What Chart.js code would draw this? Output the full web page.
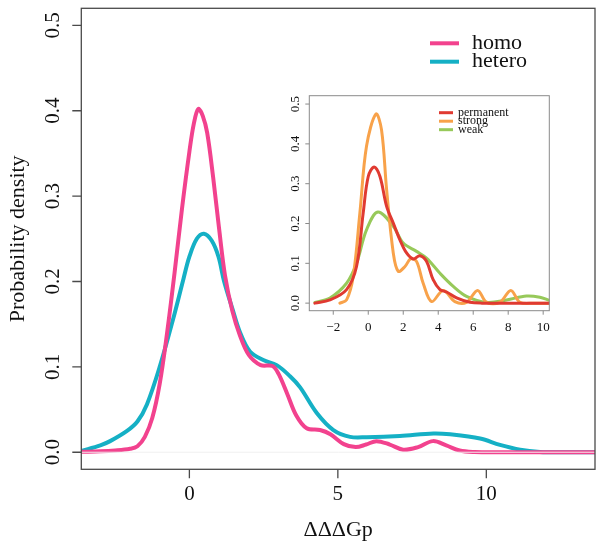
<!DOCTYPE html>
<html>
<head>
<meta charset="utf-8">
<script src="https://cdn.jsdelivr.net/npm/chart.js@4.4.0/dist/chart.umd.min.js"></script>
<style>
  body { margin: 0; background: #fff; }
  #wrap { position: relative; width: 600px; height: 548px; }
  canvas { position: absolute; left: 0; top: 0; }
</style>
</head>
<body>
<div id="wrap">
  <canvas id="main" width="600" height="548"></canvas>
  <canvas id="inset" width="600" height="548"></canvas>
</div>
<script>
// main plot: density of ΔΔΔGp for homo / hetero complexes
const homoX = [-3.64, -3, -2.5, -2, -1.75, -1.5, -1.25, -1, -0.75, -0.5, -0.25, 0, 0.15, 0.3, 0.45, 0.6, 0.8, 1.0, 1.2, 1.45, 1.7, 2.0, 2.4, 2.8, 3.0, 3.3, 3.6, 3.95, 4.4, 4.75, 5.2, 5.6, 5.95, 6.3, 6.75, 7.2, 7.7, 8.2, 8.65, 9.1, 9.6, 10.5, 12, 13.66];
const homoY = [0.0005, 0.001, 0.002, 0.004, 0.007, 0.018, 0.04, 0.08, 0.14, 0.21, 0.285, 0.352, 0.385, 0.402, 0.394, 0.374, 0.322, 0.262, 0.207, 0.165, 0.137, 0.114, 0.102, 0.101, 0.092, 0.068, 0.043, 0.028, 0.026, 0.021, 0.0095, 0.006, 0.009, 0.013, 0.009, 0.003, 0.006, 0.013, 0.008, 0.002, 0.0003, 0, 0, 0];

const heteroX = [-3.64, -3, -2.67, -2.1, -1.75, -1.43, -1.0, -0.54, -0.2, 0.0, 0.25, 0.49, 0.75, 0.98, 1.17, 1.45, 1.71, 2.04, 2.49, 2.94, 3.39, 3.73, 4.29, 4.85, 5.41, 5.97, 7.09, 8.22, 8.78, 9.79, 10.46, 11.14, 11.81, 12.5, 13.66];
const heteroY = [0.0015, 0.008, 0.013, 0.025, 0.036, 0.056, 0.100, 0.157, 0.203, 0.229, 0.25, 0.256, 0.248, 0.229, 0.2, 0.168, 0.14, 0.118, 0.108, 0.102, 0.089, 0.076, 0.046, 0.026, 0.018, 0.0176, 0.019, 0.022, 0.021, 0.016, 0.0086, 0.003, 0.0004, 0, 0];

const mainXTicks = [0, 5, 10];
const mainXLabels = ['0', '5', '10'];
const mainYTicks = [0, 0.1, 0.2, 0.3, 0.4, 0.5];
const mainYLabels = ['0.0', '0.1', '0.2', '0.3', '0.4', '0.5'];

// inset: permanent / strong / weak
const permX = [-3.05, -2.19, -1.24, -0.67, -0.29, 0, 0.34, 0.67, 1.05, 1.43, 1.81, 2.19, 2.57, 2.95, 3.33, 3.71, 4.10, 4.48, 5.05, 5.81, 6.5, 10.35];
const permY = [0, 0.008, 0.034, 0.092, 0.226, 0.318, 0.342, 0.318, 0.243, 0.201, 0.159, 0.126, 0.111, 0.119, 0.105, 0.059, 0.034, 0.028, 0.013, 0.002, 0, 0];

const strongX = [-1.62, -1.24, -0.86, -0.48, -0.10, 0.44, 0.76, 1.05, 1.43, 1.71, 2.10, 2.42, 2.76, 3.14, 3.62, 4.29, 4.95, 5.62, 6.25, 6.76, 7.52, 8.15, 8.67, 9.5, 10.35];
const strongY = [0, 0.008, 0.067, 0.226, 0.394, 0.475, 0.435, 0.285, 0.126, 0.080, 0.092, 0.111, 0.105, 0.050, 0.004, 0.032, 0.004, 0.002, 0.032, 0.002, 0.002, 0.032, 0.002, 0, 0];

const weakX = [-3.05, -2.19, -1.24, -0.67, -0.10, 0.55, 1.43, 2.0, 2.76, 3.33, 4.10, 4.86, 5.62, 6.76, 7.90, 9.05, 9.81, 10.35];
const weakY = [0.002, 0.013, 0.05, 0.10, 0.184, 0.229, 0.193, 0.151, 0.130, 0.113, 0.075, 0.042, 0.017, 0.002, 0.008, 0.018, 0.015, 0.007];

const insetXTicks = [-2, 0, 2, 4, 6, 8, 10];
const insetXLabels = ['\u22122', '0', '2', '4', '6', '8', '10'];
const insetYTicks = [0, 0.1, 0.2, 0.3, 0.4, 0.5];
const insetYLabels = ['0.0', '0.1', '0.2', '0.3', '0.4', '0.5'];

const pts = (xs, ys) => xs.map((x, i) => ({ x, y: ys[i] }));

function series(label, xs, ys, color, width) {
  return {
    label, data: pts(xs, ys), borderColor: color, borderWidth: width,
    showLine: true, pointRadius: 0, tension: 0.35,
    borderCapStyle: 'round', borderJoinStyle: 'round', fill: false
  };
}

// R-style box, ticks, labels and legend
function framePlugin(cfg) {
  return {
    id: 'frame',
    afterDraw(chart) {
      const ctx = chart.ctx, a = chart.chartArea;
      const xs = chart.scales.x, ys = chart.scales.y;
      ctx.save();
      if (cfg.zeroLine) {
        ctx.strokeStyle = '#f0f0f0'; ctx.lineWidth = 1;
        const p = ys.getPixelForValue(0);
        ctx.beginPath(); ctx.moveTo(a.left, p); ctx.lineTo(a.right, p); ctx.stroke();
      }
      ctx.strokeStyle = cfg.border; ctx.lineWidth = cfg.lw;
      ctx.strokeRect(a.left, a.top, a.right - a.left, a.bottom - a.top);
      ctx.beginPath();
      cfg.xTicks.forEach(v => {
        const p = xs.getPixelForValue(v);
        ctx.moveTo(p, a.bottom); ctx.lineTo(p, a.bottom + cfg.tick);
      });
      cfg.yTicks.forEach(v => {
        const p = ys.getPixelForValue(v);
        ctx.moveTo(a.left, p); ctx.lineTo(a.left - cfg.tick, p);
      });
      ctx.stroke();

      ctx.fillStyle = '#111';
      ctx.font = cfg.font;
      ctx.textAlign = 'center'; ctx.textBaseline = 'middle';
      cfg.xTicks.forEach((v, i) => ctx.fillText(cfg.xLabels[i], xs.getPixelForValue(v), a.bottom + cfg.xOff));
      cfg.yTicks.forEach((v, i) => {
        ctx.save();
        ctx.translate(a.left - cfg.yOff, ys.getPixelForValue(v));
        ctx.rotate(-Math.PI / 2);
        ctx.fillText(cfg.yLabels[i], 0, 0);
        ctx.restore();
      });

      if (cfg.xTitle) {
        ctx.font = cfg.titleFont;
        ctx.fillText(cfg.xTitle, (a.left + a.right) / 2, cfg.xTitleY);
        ctx.save();
        ctx.translate(cfg.yTitleX, (a.top + a.bottom) / 2);
        ctx.rotate(-Math.PI / 2);
        ctx.fillText(cfg.yTitle, 0, 0);
        ctx.restore();
      }

      const lg = cfg.legend;
      ctx.font = lg.font; ctx.textAlign = 'left';
      chart.data.datasets.forEach((d, i) => {
        const y = lg.y + i * lg.gap;
        ctx.strokeStyle = d.borderColor; ctx.lineWidth = d.borderWidth;
        ctx.beginPath(); ctx.moveTo(lg.x, y); ctx.lineTo(lg.x + lg.len, y); ctx.stroke();
        ctx.fillText(d.label, lg.x + lg.len + lg.pad, y);
      });
      ctx.restore();
    }
  };
}

function baseOptions(xr, yr, yWidth, xHeight, padding) {
  return {
    responsive: false, animation: false, events: [],
    layout: { padding },
    plugins: { legend: { display: false }, tooltip: { enabled: false } },
    scales: {
      x: {
        type: 'linear', min: xr[0], max: xr[1],
        grid: { display: false }, border: { display: false }, ticks: { display: false },
        afterFit: s => { s.height = xHeight; }
      },
      y: {
        type: 'linear', min: yr[0], max: yr[1],
        grid: { display: false }, border: { display: false }, ticks: { display: false },
        afterFit: s => { s.width = yWidth; }
      }
    }
  };
}

new Chart(document.getElementById('main'), {
  type: 'scatter',
  data: {
    datasets: [
      series('homo', homoX, homoY, '#F2428E', 4),
      series('hetero', heteroX, heteroY, '#15B0C5', 4)
    ]
  },
  options: baseOptions([-3.64, 13.66], [-0.02, 0.52], 81.3, 78.7, { left: 0, top: 8.3, right: 5, bottom: 0 }),
  plugins: [framePlugin({
    zeroLine: true, border: '#4a4a4a', lw: 1.3, tick: 9,
    font: '21px "Liberation Serif", serif',
    xTicks: mainXTicks, xLabels: mainXLabels, xOff: 25,
    yTicks: mainYTicks, yLabels: mainYLabels, yOff: 28,
    xTitle: '\u0394\u0394\u0394Gp', yTitle: 'Probability density',
    titleFont: '22px "Liberation Serif", serif', xTitleY: 530, yTitleX: 18,
    legend: { x: 430, y: 43.3, gap: 18.4, len: 29, pad: 13, font: '22px "Liberation Serif", serif' }
  })]
});

new Chart(document.getElementById('inset'), {
  type: 'scatter',
  data: {
    datasets: [
      series('permanent', permX, permY, '#E03A31', 3),
      series('strong', strongX, strongY, '#F8A24A', 3),
      series('weak', weakX, weakY, '#97C95A', 3)
    ]
  },
  options: baseOptions([-3.37, 10.35], [-0.019, 0.521], 40, 30, { left: 269.3, top: 95.7, right: 50.7, bottom: 207.3 }),
  plugins: [framePlugin({
    zeroLine: false, border: '#8a8a8a', lw: 1, tick: 4,
    font: '13px "Liberation Serif", serif',
    xTicks: insetXTicks, xLabels: insetXLabels, xOff: 17,
    yTicks: insetYTicks, yLabels: insetYLabels, yOff: 14,
    legend: { x: 439, y: 112.7, gap: 8.5, len: 14, pad: 5, font: '12px "Liberation Serif", serif' }
  })]
});
</script>
</body>
</html>
